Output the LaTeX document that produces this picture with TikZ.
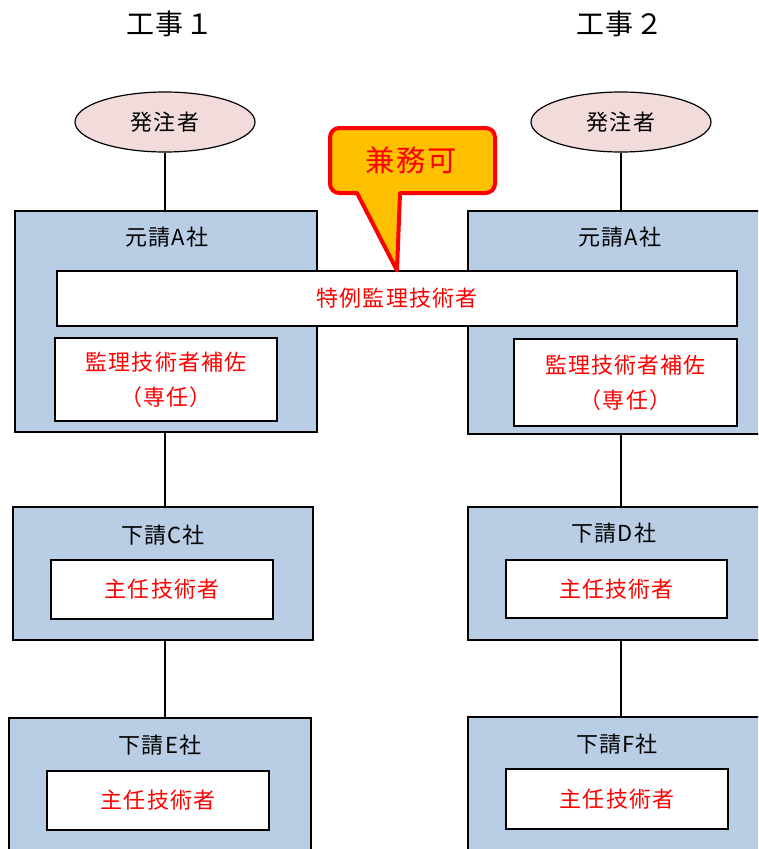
\documentclass[tikz,border=0pt]{standalone}
\usepackage{fontspec}
\setmainfont{Noto Sans CJK JP}[LetterSpace=5]
\usetikzlibrary{shapes.geometric}

\definecolor{boxblue}{RGB}{185,205,229}
\definecolor{hatchupink}{RGB}{242,220,219}
\definecolor{kenmuorange}{RGB}{255,192,0}

\tikzset{
  companybox/.style={draw, line width=0.9pt, fill=boxblue, inner sep=0pt},
  staffbox/.style={draw, line width=0.9pt, fill=white, text=red, align=center,
    font=\fontsize{16.5}{26}\selectfont},
  clientnode/.style={draw, ellipse, line width=0.9pt, fill=hatchupink,
    minimum width=135pt, minimum height=45pt, font=\fontsize{16.5}{18}\selectfont},
  companylabel/.style={font=\fontsize{16.5}{18}\selectfont},
  kojititle/.style={font=\fontsize{21}{24}\selectfont},
  link/.style={line width=0.9pt},
  kenmu/.style={draw=red, line width=3pt, line join=round, fill=kenmuorange}
}

\begin{document}
\begin{tikzpicture}[x=0.75pt, y=-0.75pt]

    \useasboundingbox (0,0) rectangle (758,849);
    \clip (0,0) rectangle (758,849);

    %% Titles
    \node[kojititle] (koji1) at (170,24) {工事１};
    \node[kojititle] (koji2) at (620,24) {工事２};

    %% Clients
    \node[clientnode] (hatchu1) at (165,122) {発注者};
    \node[clientnode] (hatchu2) at (621,122) {発注者};

    %% Main contractors
    \node[companybox, minimum width=226.5pt, minimum height=165.75pt] (moto1) at (166,321.5) {};
    \node[companylabel] at (167,237) {元請A社};
    \node[companybox, minimum width=228pt, minimum height=167.25pt] (moto2) at (620,322.5) {};
    \node[companylabel] at (620,237) {元請A社};

    % Special supervising engineer (shared)
    \node[staffbox, minimum width=510pt, minimum height=41.25pt] (tokurei) at (397,298.5) {特例監理技術者};

    % Assistants
    \node[staffbox, minimum width=166.5pt, minimum height=62.25pt] (hosa1) at (166,379.5) {監理技術者補佐\\（専任）};
    \node[staffbox, minimum width=167.25pt, minimum height=65.25pt] (hosa2) at (625.5,382.5) {監理技術者補佐\\（専任）};

    %% Subcontractors, first tier
    \node[companybox, minimum width=225pt, minimum height=99.75pt] (shitaC) at (163,573.5) {};
    \node[companylabel] at (163,535) {下請C社};
    \node[staffbox, minimum width=166.5pt, minimum height=44.25pt] (shuninC) at (162,589.5) {主任技術者};
    \node[companybox, minimum width=228pt, minimum height=99.75pt] (shitaD) at (620,573.5) {};
    \node[companylabel] at (614,533) {下請D社};
    \node[staffbox, minimum width=165.75pt, minimum height=43.5pt] (shuninD) at (616.5,589) {主任技術者};

    %% Subcontractors, second tier
    \node[companybox, minimum width=226.5pt, minimum height=99.75pt] (shitaE) at (160,784.5) {};
    \node[companylabel] at (160,745) {下請E社};
    \node[staffbox, minimum width=166.5pt, minimum height=44.25pt] (shuninE) at (158,800.5) {主任技術者};
    \node[companybox, minimum width=228pt, minimum height=99.75pt] (shitaF) at (620,783.5) {};
    \node[companylabel] at (617,744) {下請F社};
    \node[staffbox, minimum width=166.5pt, minimum height=45pt] (shuninF) at (617,799) {主任技術者};

    %% Links
    \draw[link] (hatchu1.south) -- (moto1.north -| hatchu1);
    \draw[link] (moto1.south -| hatchu1) -- (shitaC.north -| hatchu1);
    \draw[link] (shitaC.south -| hatchu1) -- (shitaE.north -| hatchu1);
    \draw[link] (hatchu2.south) -- (moto2.north -| hatchu2);
    \draw[link] (moto2.south -| hatchu2) -- (shitaD.north -| hatchu2);
    \draw[link] (shitaD.south -| hatchu2) -- (shitaF.north -| hatchu2);

    %% Callout
    \path[kenmu] (tokurei.north) -- (357,193) [rounded corners=7pt] -- (330,193)
      -- (330,128) -- (495,128) -- (495,193) [sharp corners] -- (400,193) -- cycle;
    \node[text=red, font=\fontsize{22}{24}\selectfont] (kenmuka) at (411,160) {兼務可};

\end{tikzpicture}
\end{document}
